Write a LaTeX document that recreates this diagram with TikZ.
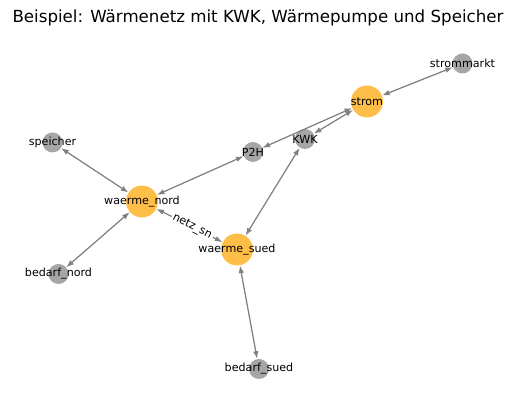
\documentclass[tikz,border=0pt]{standalone}
\usepackage{fontspec}
\setmainfont{DejaVu Sans}
\usetikzlibrary{arrows.meta}
\definecolor{huborange}{RGB}{255,190,72}
\definecolor{leafgray}{RGB}{166,166,166}
\begin{document}
\begin{tikzpicture}[x=0.72pt, y=-0.72pt,
		hub/.style = {circle, fill=huborange, minimum size=23pt, inner sep=0pt},
		leaf/.style = {circle, fill=leafgray, minimum size=14.4pt, inner sep=0pt},
		txt/.style = {font=\fontsize{8}{9}\selectfont, inner sep=0pt},
		link/.style = {draw=gray, line width=0.9pt, {Latex[length=5.5pt,width=4pt]}-{Latex[length=5.5pt,width=4pt]}}] 
		\useasboundingbox (0,0) rectangle (515,411);
		\node (title) at (258,18) {\fontsize{12}{14}\selectfont Beispiel: Wärmenetz mit KWK, Wärmepumpe und Speicher};
		\node[leaf] (strommarkt) at (462.5,63.5) {}; 
		\node[hub] (strom) at (367,101.5) {}; 
		\node[leaf] (KWK) at (305,139) {}; 
		\node[leaf] (P2H) at (253,152) {}; 
		\node[leaf] (speicher) at (52.5,142.5) {}; 
		\node[hub] (waerme_nord) at (142,201.5) {}; 
		\node[hub] (waerme_sued) at (237,249.5) {}; 
		\node[leaf] (bedarf_nord) at (58.5,274) {}; 
		\node[leaf] (bedarf_sued) at (259,369) {}; 
		\draw[link] (strommarkt) -- (strom);
		\draw[link] (strom) -- (KWK);
		\draw[link] (strom) -- (P2H);
		\draw[link] (P2H) -- (waerme_nord);
		\draw[link] (KWK) -- (waerme_sued);
		\draw[link] (speicher) -- (waerme_nord);
		\draw[link] (bedarf_nord) -- (waerme_nord);
		\draw[link] (waerme_sued) -- (bedarf_sued);
		\draw[link] (waerme_nord) -- node[txt, sloped, pos=0.54, fill=white, inner sep=1.2pt] (netz_sn) {netz\_sn} (waerme_sued);
		\node[txt] (t-strommarkt) at (strommarkt) {strommarkt};
		\node[txt] (t-strom) at (strom) {strom};
		\node[txt] (t-KWK) at (KWK) {KWK};
		\node[txt] (t-P2H) at (P2H) {P2H};
		\node[txt] (t-speicher) at (speicher) {speicher};
		\node[txt] (t-waerme_nord) at (waerme_nord) {waerme\_nord};
		\node[txt] (t-waerme_sued) at (waerme_sued) {waerme\_sued};
		\node[txt] (t-bedarf_nord) at (bedarf_nord) {bedarf\_nord};
		\node[txt] (t-bedarf_sued) at (bedarf_sued) {bedarf\_sued};
	\end{tikzpicture}
\end{document}
